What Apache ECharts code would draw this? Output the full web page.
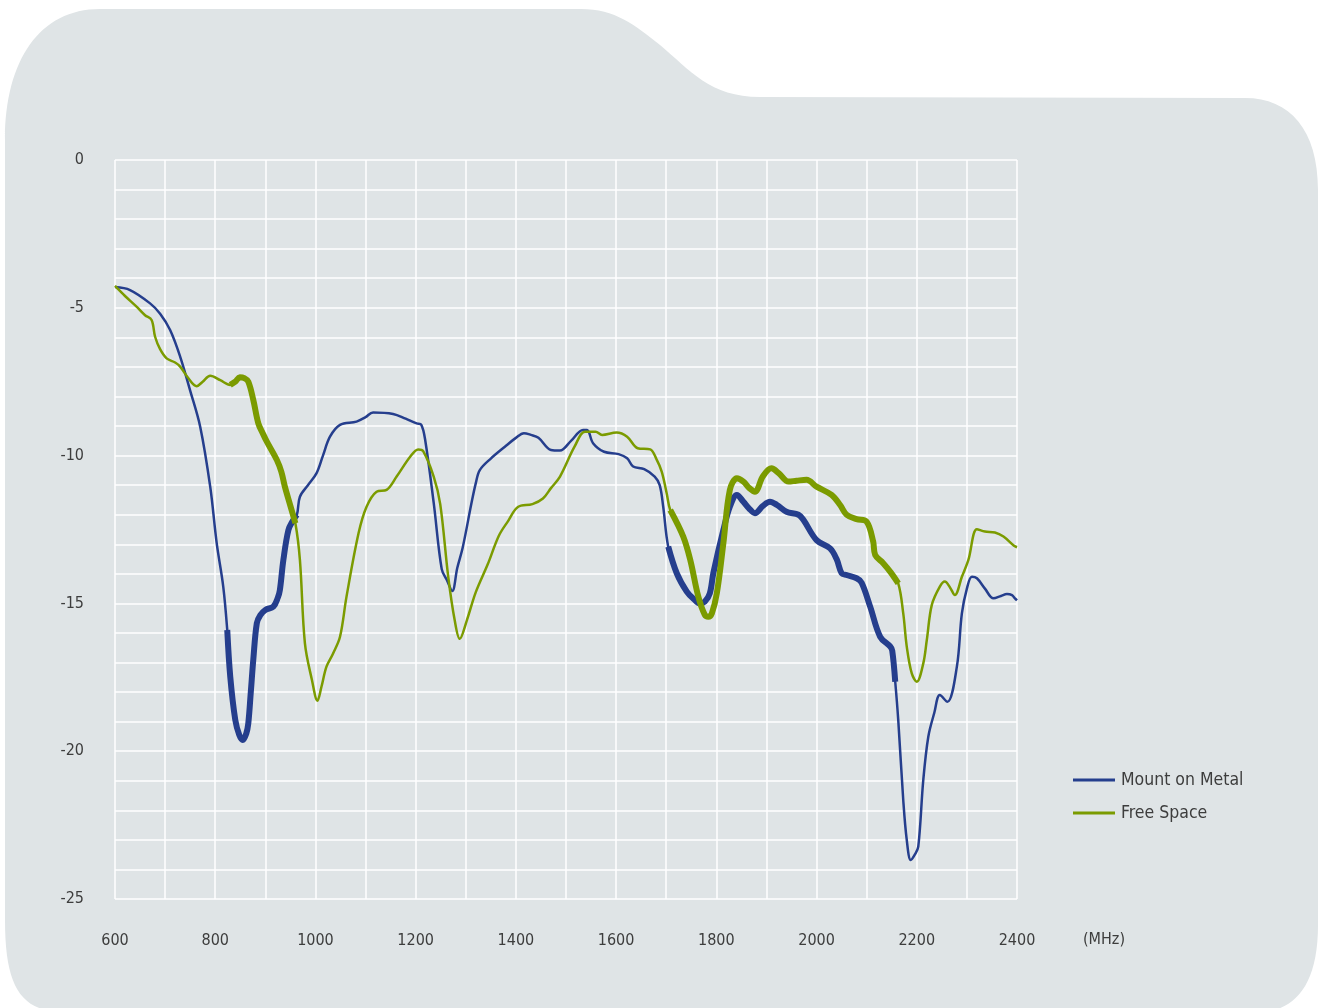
<!DOCTYPE html>
<html>
<head>
<meta charset="utf-8">
<script src="https://cdn.jsdelivr.net/npm/echarts@6/dist/echarts.min.js"></script>
<style>
  html, body { margin: 0; padding: 0; background: #ffffff; }
  #chart { width: 1320px; height: 1008px; }
</style>
</head>
<body>
<div id="chart"></div>
<script>
// Mount on Metal - return loss (dB) vs frequency (MHz)
const metalFreq = [600, 630, 670, 690, 710, 730, 750, 770, 790, 803, 816, 824, 830, 840, 848, 855, 862, 866, 871, 876,
  883, 890, 900, 916, 925, 929, 936, 946, 955, 963, 969, 985, 1002, 1015, 1029, 1049, 1082, 1100, 1115, 1155,
  1180, 1202, 1211, 1219, 1236, 1252, 1262, 1273, 1283, 1294, 1311, 1320, 1328, 1350, 1378, 1400, 1416, 1430, 1445, 1470,
  1488, 1510, 1534, 1542, 1554, 1576, 1605, 1622, 1634, 1656, 1677, 1687, 1694, 1704, 1721, 1741, 1755, 1767, 1777, 1787,
  1794, 1814, 1827, 1841, 1854, 1866, 1877, 1893, 1907, 1921, 1940, 1964, 1974, 2000, 2027, 2040, 2050, 2060, 2080, 2090,
  2107, 2127, 2147, 2151, 2157, 2163, 2173, 2180, 2188, 2196, 2203, 2213, 2223, 2235, 2246, 2261, 2280, 2290, 2300, 2310,
  2320, 2336, 2353, 2368, 2380, 2390, 2396, 2400];
const metalLoss = [-4.30, -4.40, -4.85, -5.2, -5.75, -6.65, -7.8, -9.02, -11.05, -12.97, -14.43, -15.9, -17.48, -18.94, -19.45, -19.62, -19.4, -19.06, -18.0, -16.9,
  -15.67, -15.4, -15.22, -15.11, -14.8, -14.55, -13.53, -12.52, -12.2, -12.0, -11.39, -11.0, -10.6, -10.0, -9.36, -8.96, -8.85, -8.7, -8.54, -8.59,
  -8.75, -8.91, -8.95, -9.47, -11.6, -13.84, -14.2, -14.58, -13.8, -13.1, -11.64, -10.93, -10.49, -10.1, -9.7, -9.4, -9.24, -9.3, -9.4, -9.81,
  -9.83, -9.5, -9.13, -9.13, -9.58, -9.87, -9.95, -10.09, -10.37, -10.46, -10.71, -11.0, -11.73, -13.08, -13.98, -14.6, -14.85, -15.0, -14.94, -14.66,
  -13.98, -12.52, -11.73, -11.33, -11.56, -11.8, -11.95, -11.7, -11.56, -11.67, -11.9, -12.0, -12.18, -12.86, -13.14, -13.5, -13.98, -14.04, -14.15, -14.3,
  -15.11, -16.13, -16.46, -16.6, -17.65, -18.94, -21.65, -23.0, -23.68, -23.5, -23.23, -20.97, -19.51, -18.7, -18.1, -18.33, -17.14, -15.34, -14.5, -14.1,
  -14.15, -14.5, -14.83, -14.75, -14.68, -14.72, -14.83, -14.9];

// Free Space
const freeFreq = [600, 620, 643, 660, 673, 680, 690, 703, 720, 730, 745, 763, 775, 790, 810, 830, 840, 849, 858, 866,
  876, 886, 895, 903, 923, 932, 939, 950, 960, 969, 979, 993, 1004, 1012, 1022, 1035, 1049, 1062, 1086, 1102,
  1122, 1142, 1162, 1189, 1205, 1215, 1236, 1249, 1265, 1278, 1288, 1302, 1320, 1344, 1366, 1385, 1404, 1433, 1454, 1470,
  1488, 1517, 1538, 1559, 1572, 1601, 1622, 1643, 1668, 1680, 1691, 1701, 1708, 1734, 1748, 1764, 1777, 1784, 1791, 1801,
  1814, 1827, 1841, 1854, 1866, 1877, 1893, 1910, 1925, 1944, 1960, 1980, 2000, 2030, 2047, 2060, 2080, 2100, 2113, 2117,
  2133, 2148, 2163, 2173, 2180, 2190, 2200, 2213, 2220, 2230, 2246, 2256, 2266, 2276, 2290, 2303, 2320, 2336, 2356, 2373,
  2394, 2400];
const freeLoss = [-4.26, -4.6, -4.96, -5.25, -5.41, -5.98, -6.4, -6.71, -6.85, -6.99, -7.35, -7.65, -7.5, -7.3, -7.45, -7.61, -7.5, -7.35, -7.38, -7.5,
  -8.12, -8.91, -9.25, -9.53, -10.15, -10.55, -11.05, -11.7, -12.29, -13.53, -16.35, -17.59, -18.29, -17.82, -17.14, -16.7, -16.13, -14.77, -12.63, -11.73,
  -11.22, -11.16, -10.71, -10.04, -9.79, -9.85, -10.71, -11.64, -14.1, -15.58, -16.2, -15.58, -14.62, -13.67, -12.71, -12.2, -11.74, -11.64, -11.45, -11.1,
  -10.71, -9.7, -9.19, -9.19, -9.3, -9.22, -9.36, -9.75, -9.79, -10.1, -10.54, -11.28, -11.84, -12.74, -13.53, -14.77, -15.39, -15.45, -15.34, -14.66,
  -12.97, -11.16, -10.77, -10.88, -11.1, -11.22, -10.7, -10.43, -10.6, -10.88, -10.85, -10.82, -11.05, -11.33, -11.67, -12.0, -12.15, -12.24, -12.91, -13.36,
  -13.64, -13.95, -14.32, -15.34, -16.46, -17.37, -17.65, -17.03, -16.24, -15.05, -14.43, -14.26, -14.45, -14.72, -14.1, -13.53, -12.49, -12.57, -12.6, -12.74,
  -13.05, -13.1];

// highlighted operating bands (drawn bold)
const metalBands = [[824, 963], [1704, 2157]];
const freeBands = [[830, 960], [1708, 2163]];

const xTicks = [600, 800, 1000, 1200, 1400, 1600, 1800, 2000, 2200, 2400];
const yTicks = [0, -5, -10, -15, -20, -25];

const blue = '#253e8d';
const green = '#7b9b00';
const labelFont = '"Liberation Sans Narrow", "DejaVu Sans Condensed", sans-serif';

const pairs = (fx, fy) => fx.map((f, i) => [f, fy[i]]);
const metalData = pairs(metalFreq, metalLoss);
const freeData = pairs(freeFreq, freeLoss);

function bandSeries(data, bands, color, name) {
  return bands.map(b => ({
    name: name + ' band',
    type: 'line',
    data: data.filter(p => p[0] >= b[0] && p[0] <= b[1]),
    showSymbol: false,
    smooth: 0.35,
    silent: true,
    z: 4,
    lineStyle: { color: color, width: 6, cap: 'butt' }
  }));
}

// card-shaped grey backdrop with the tab on the top-left
const bgPath = 'M 5 140 C 5 60 40 9 100 9 L 581 9 C 615 9 635 25 660 45 C 690 70 710 97 760 97 ' +
  'L 1245 98 C 1290 98 1318 130 1318 190 L 1318 925 C 1318 985 1295 1010 1262 1012 ' +
  'L 60 1012 C 20 1010 5 985 5 920 Z';
echarts.graphic.registerShape('cardBg', echarts.graphic.extendPath(bgPath, {}));

const chart = echarts.init(document.getElementById('chart'));

chart.setOption({
  animation: false,
  backgroundColor: '#ffffff',
  graphic: [{
    type: 'cardBg',
    z: -10,
    style: { fill: '#dfe4e6' }
  }, {
    type: 'text',
    left: 1083,
    top: 932,
    style: { text: '(MHz)', fontSize: 16, fontFamily: labelFont, fill: '#3d3d3d' }
  }],
  grid: { left: 115, right: 303, top: 160, bottom: 109 },
  legend: {
    data: ['Mount on Metal', 'Free Space'],
    orient: 'vertical',
    left: 1068,
    top: 766,
    itemWidth: 42,
    itemHeight: 3,
    itemGap: 15,
    icon: 'rect',
    textStyle: { fontSize: 17.5, color: '#3d3d3d', fontFamily: labelFont, padding: [0, 0, 0, 1] }
  },
  xAxis: {
    type: 'value',
    min: 600,
    max: 2400,
    interval: 100,
    axisLine: { show: false },
    axisTick: { show: false },
    splitLine: { lineStyle: { color: '#ffffff', width: 1.5 } },
    axisLabel: {
      margin: 34,
      fontSize: 16,
      color: '#3d3d3d',
      fontFamily: labelFont,
      formatter: v => (xTicks.includes(v) ? String(v) : '')
    }
  },
  yAxis: {
    type: 'value',
    min: -25,
    max: 0,
    interval: 1,
    axisLine: { show: false },
    axisTick: { show: false },
    splitLine: { lineStyle: { color: '#ffffff', width: 1.5 } },
    axisLabel: {
      margin: 31,
      fontSize: 16,
      color: '#3d3d3d',
      fontFamily: labelFont,
      formatter: v => (yTicks.includes(v) ? String(v) : '')
    }
  },
  series: [
    {
      name: 'Mount on Metal',
      type: 'line',
      data: metalData,
      showSymbol: false,
      smooth: 0.35,
      z: 3,
      color: blue,
      lineStyle: { color: blue, width: 2.5 }
    },
    {
      name: 'Free Space',
      type: 'line',
      data: freeData,
      showSymbol: false,
      smooth: 0.35,
      z: 3,
      color: green,
      lineStyle: { color: green, width: 2.5 }
    },
    ...bandSeries(metalData, metalBands, blue, 'Mount on Metal'),
    ...bandSeries(freeData, freeBands, green, 'Free Space')
  ]
});
</script>
</body>
</html>
